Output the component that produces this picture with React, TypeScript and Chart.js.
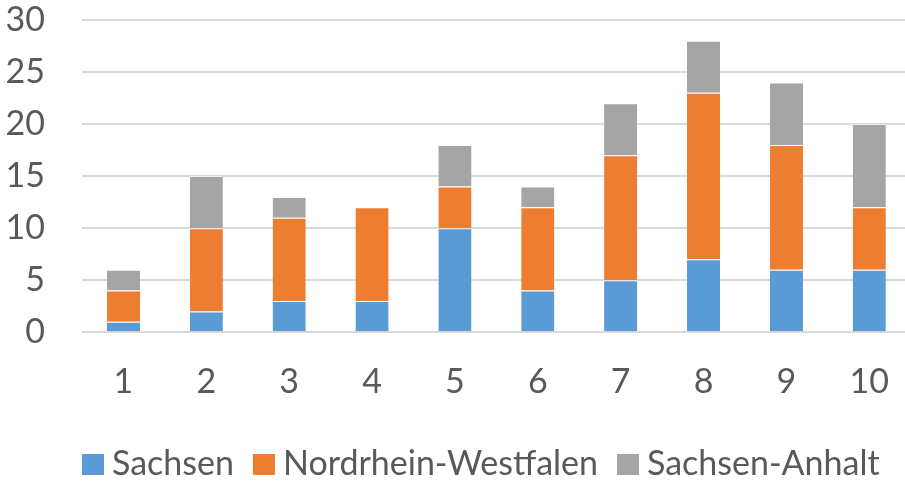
import React, { useEffect, useRef } from "react";
import { Chart, registerables } from "chart.js";

Chart.register(...registerables);

const categories = ["1", "2", "3", "4", "5", "6", "7", "8", "9", "10"];
const sachsen = [1, 2, 3, 3, 10, 4, 5, 7, 6, 6];
const nrw = [3, 8, 8, 9, 4, 8, 12, 16, 12, 6];
const sachsenAnhalt = [2, 5, 2, 0, 4, 2, 5, 5, 6, 8];
const seriesNames = ["Sachsen", "Nordrhein-Westfalen", "Sachsen-Anhalt"];
const colors = ["#5B9BD5", "#ED7D31", "#A5A5A5"];

const FONT = "Lato, 'Open Sans', sans-serif";
const TEXT = "#595959";

const legendPlugin = {
  id: "customLegend",
  afterDraw(chart: any) {
    const ctx = chart.ctx;
    ctx.save();
    ctx.font = `34px ${FONT}`;
    ctx.textBaseline = "alphabetic";
    ctx.textAlign = "left";
    let x = chart.chartArea.left;
    const base = chart.height - 6;
    chart.data.datasets.forEach((ds: any) => {
      ctx.fillStyle = ds.backgroundColor;
      ctx.fillRect(x, base - 21, 22, 21);
      x += 22 + 8;
      ctx.fillStyle = TEXT;
      ctx.fillText(ds.label, x, base);
      x += ctx.measureText(ds.label).width + 19;
    });
    ctx.restore();
  },
};

export default function App() {
  const ref = useRef<HTMLCanvasElement | null>(null);
  useEffect(() => {
    if (!ref.current) return;
    const chart = new Chart(ref.current, {
      type: "bar",
      data: {
        labels: categories,
        datasets: [sachsen, nrw, sachsenAnhalt].map((d, i) => ({
          label: seriesNames[i],
          data: d,
          backgroundColor: colors[i],
          borderColor: "rgba(255,255,255,0.6)",
          borderWidth: { top: 1, bottom: 0, left: 0, right: 0 },
          borderSkipped: false,
          barPercentage: 0.4,
          categoryPercentage: 1,
        })),
      },
      plugins: [legendPlugin],
      options: {
        animation: false,
        responsive: true,
        maintainAspectRatio: false,
        layout: { padding: { left: 0, top: 0, right: 0, bottom: 50 } },
        plugins: {
          tooltip: { enabled: false },
          legend: { display: false },
        },
        scales: {
          x: {
            stacked: true,
            grid: { display: false, drawTicks: false },
            border: { display: false },
            ticks: { color: TEXT, font: { family: FONT, size: 34 }, padding: 29 },
          },
          y: {
            stacked: true,
            min: 0,
            max: 30,
            afterFit: (s: any) => {
              s.width = 82;
              s.paddingTop = 20;
              s.paddingBottom = 0;
            },
            grid: { color: "#D9D9D9", lineWidth: 2, drawTicks: false },
            border: { display: false },
            ticks: {
              stepSize: 5,
              autoSkip: false,
              color: TEXT,
              font: { family: FONT, size: 34 },
              padding: 37,
            },
          },
        },
      },
    });
    return () => chart.destroy();
  }, []);
  return (
    <div style={{ position: "fixed", left: 0, top: 0, width: 905, height: 481, overflow: "hidden", background: "#fff" }}>
      <div style={{ position: "absolute", left: 0, top: 0, width: 918, height: 481 }}>
        <canvas ref={ref} />
      </div>
    </div>
  );
}
